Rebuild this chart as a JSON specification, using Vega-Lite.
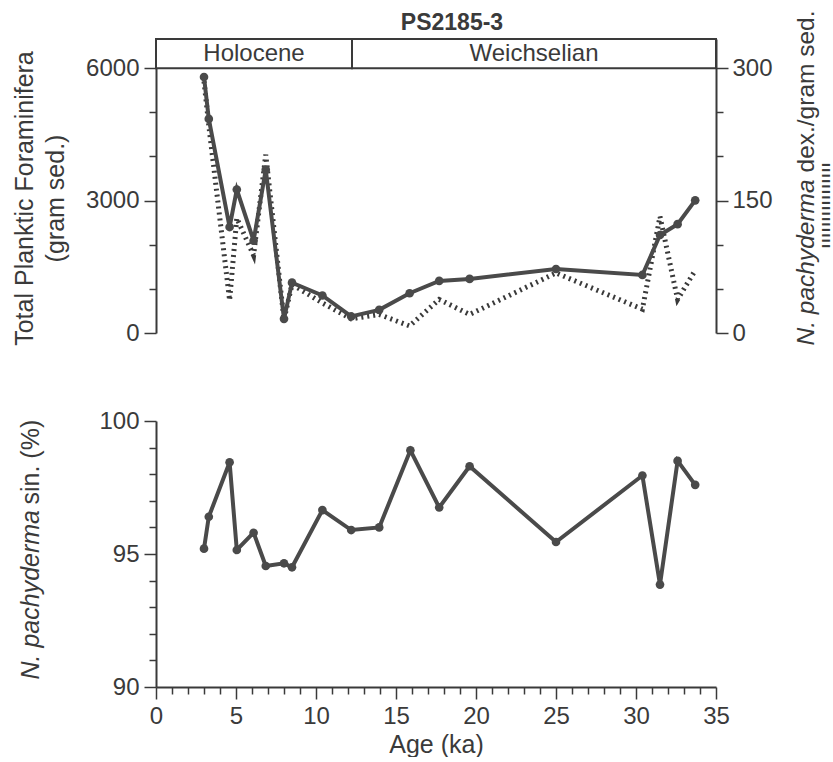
{
  "$schema": "https://vega.github.io/schema/vega-lite/v6.json",
  "autosize": {"type": "pad"},
  "padding": {"left": 12, "top": 9, "right": 0, "bottom": 0},
  "background": "white",
  "config": {
    "font": "Liberation Sans",
    "view": {"stroke": null},
    "axis": {
      "labelFont": "Liberation Sans", "titleFont": "Liberation Sans",
      "labelFontSize": 24, "titleFontSize": 25,
      "labelColor": "#3a3a3a", "titleColor": "#3a3a3a", "titleFontWeight": "normal",
      "domainColor": "#3a3a3a", "domainWidth": 2, "tickColor": "#3a3a3a", "tickWidth": 1.5,
      "grid": false, "labelOverlap": false, "labelFlush": false, "labelPadding": 5
    },
    "title": {"font": "Liberation Sans"}
  },
  "datasets": {
    "epochs": [
      {"epoch": "Holocene", "start": 0, "end": 12.25},
      {"epoch": "Weichselian", "start": 12.25, "end": 35}
    ],
    "top": [
      {"age": 3.0, "total": 5800, "dex": 285},
      {"age": 3.3, "total": 4850, "dex": 235},
      {"age": 4.6, "total": 2400, "dex": 37},
      {"age": 5.05, "total": 3250, "dex": 130},
      {"age": 6.1, "total": 2090, "dex": 88},
      {"age": 6.86, "total": 3700, "dex": 202},
      {"age": 8.0, "total": 320, "dex": 15},
      {"age": 8.5, "total": 1140, "dex": 55},
      {"age": 10.4, "total": 850, "dex": 34},
      {"age": 12.2, "total": 375, "dex": 16},
      {"age": 13.95, "total": 525, "dex": 21},
      {"age": 15.85, "total": 900, "dex": 8},
      {"age": 17.7, "total": 1180, "dex": 38},
      {"age": 19.6, "total": 1225, "dex": 21},
      {"age": 25.0, "total": 1450, "dex": 68},
      {"age": 30.4, "total": 1315, "dex": 27},
      {"age": 31.5, "total": 2220, "dex": 132},
      {"age": 32.6, "total": 2465, "dex": 38},
      {"age": 33.7, "total": 3005, "dex": 71}
    ],
    "sin": [
      {"age": 3.0, "sin": 95.2},
      {"age": 3.3, "sin": 96.4},
      {"age": 4.6, "sin": 98.45},
      {"age": 5.05, "sin": 95.15},
      {"age": 6.1, "sin": 95.8},
      {"age": 6.86, "sin": 94.55},
      {"age": 8.0, "sin": 94.65},
      {"age": 8.5, "sin": 94.5},
      {"age": 10.4, "sin": 96.65},
      {"age": 12.2, "sin": 95.9},
      {"age": 13.95, "sin": 96.0},
      {"age": 15.9, "sin": 98.9},
      {"age": 17.7, "sin": 96.75},
      {"age": 19.6, "sin": 98.3},
      {"age": 25.0, "sin": 95.45},
      {"age": 30.4, "sin": 97.95},
      {"age": 31.5, "sin": 93.85},
      {"age": 32.6, "sin": 98.5},
      {"age": 33.7, "sin": 97.6}
    ]
  },
  "spacing": 88,
  "bounds": "flush",
  "vconcat": [
    {
      "width": 560,
      "height": 294,
      "title": {"text": "PS2185-3", "fontSize": 23, "fontWeight": "bold", "color": "#3a3a3a", "anchor": "middle", "frame": "group", "dx": 16, "offset": -43, "baseline": "alphabetic"},
      "layer": [
        {
          "data": {"name": "epochs"},
          "mark": {"type": "rect", "fill": "white", "stroke": "#3a3a3a", "strokeWidth": 2},
          "encoding": {
            "x": {"field": "start", "type": "quantitative", "scale": {"domain": [0, 35], "nice": false}, "axis": null},
            "x2": {"field": "end"},
            "y": {"datum": 6000, "type": "quantitative", "scale": {"domain": [0, 6660], "nice": false}, "axis": null},
            "y2": {"datum": 6660}
          }
        },
        {
          "data": {"name": "epochs"},
          "transform": [{"calculate": "(datum.start + datum.end) / 2", "as": "mid"}],
          "mark": {"type": "text", "fontSize": 24, "color": "#3a3a3a", "baseline": "middle", "align": "center"},
          "encoding": {
            "x": {"field": "mid", "type": "quantitative", "scale": {"domain": [0, 35], "nice": false}, "axis": null},
            "y": {"datum": 6330, "type": "quantitative", "scale": {"domain": [0, 6660], "nice": false}, "axis": null},
            "text": {"field": "epoch", "type": "nominal"}
          }
        },
        {
          "data": {"name": "top"},
          "mark": {"type": "line", "color": "#3a3a3a", "strokeWidth": 5, "strokeDash": [2, 4]},
          "encoding": {
            "x": {"field": "age", "type": "quantitative", "scale": {"domain": [0, 35], "nice": false}, "axis": null},
            "y": {
              "field": "dex", "type": "quantitative",
              "scale": {"domain": [0, 333], "nice": false},
              "axis": {
                "orient": "right",
                "values": [0, 50, 100, 150, 200, 250, 300],
                "labelExpr": "datum.value % 150 === 0 ? '' + datum.value : ''",
                "tickSize": {"condition": {"test": "datum.value % 150 !== 0", "value": 7}, "value": 12},
                "labelPadding": 4,
                "title": "N. pachyderma",
                "titleFontStyle": "italic",
                "titleFontSize": 24.5,
                "titleAngle": 270, "titleAlign": "left", "titleBaseline": "alphabetic",
                "titleX": 97, "titleY": 306
              }
            }
          }
        },
        {
          "data": {"name": "top"},
          "mark": {"type": "line", "color": "#4a4a4a", "strokeWidth": 4, "point": {"filled": true, "size": 75, "color": "#4a4a4a"}},
          "encoding": {
            "x": {
              "field": "age", "type": "quantitative", "scale": {"domain": [0, 35], "nice": false},
              "axis": {
                "values": [0,1,2,3,4,5,6,7,8,9,10,11,12,13,14,15,16,17,18,19,20,21,22,23,24,25,26,27,28,29,30,31,32,33,34,35],
                "labels": false,
                "tickSize": {"condition": {"test": "datum.value % 5 !== 0", "value": 7}, "value": 12},
                "title": null
              }
            },
            "y": {
              "field": "total", "type": "quantitative",
              "scale": {"domain": [0, 6660], "nice": false},
              "axis": {
                "orient": "left",
                "values": [0, 1000, 2000, 3000, 4000, 5000, 6000],
                "labelExpr": "datum.value % 3000 === 0 ? '' + datum.value : ''",
                "tickSize": {"condition": {"test": "datum.value % 3000 !== 0", "value": 7}, "value": 12},
                "title": ["Total Planktic Foraminifera", "(gram sed.)"],
                "titleAngle": 270, "titleAlign": "center", "titleBaseline": "alphabetic",
                "titleLineHeight": 31,
                "titleX": -124, "titleY": 159
              }
            }
          }
        },
        {
          "data": {"name": "top"},
          "mark": {"type": "line", "opacity": 0},
          "encoding": {
            "x": {"field": "age", "type": "quantitative", "scale": {"domain": [0, 35], "nice": false}, "axis": null},
            "y": {
              "field": "dex", "type": "quantitative", "scale": {"domain": [0, 333], "nice": false},
              "axis": {
                "orient": "right", "labels": false, "ticks": false, "domain": false,
                "title": "dex./gram sed.",
                "titleFontSize": 24.5,
                "titleAngle": 270, "titleAlign": "left", "titleBaseline": "alphabetic",
                "titleX": 97, "titleY": 133
              }
            }
          }
        },
        {
          "data": {"name": "top"},
          "mark": {"type": "line", "opacity": 0},
          "encoding": {
            "x": {"field": "age", "type": "quantitative", "scale": {"domain": [0, 35], "nice": false}, "axis": null},
            "y": {
              "field": "dex", "type": "quantitative", "scale": {"domain": [0, 333], "nice": false},
              "axis": {
                "orient": "right", "labels": false, "ticks": false, "domain": false,
                "title": "\u0131\u200a\u0131\u200a\u0131\u200a\u0131\u200a\u0131\u200a\u0131\u200a\u0131\u200a\u0131\u200a\u0131\u200a\u0131\u200a\u0131\u200a\u0131\u200a\u0131\u200a\u0131\u200a\u0131\u200a\u0131",
                "titleFontSize": 15,
                "titleFontWeight": "bold",
                "titleAngle": 270, "titleAlign": "center", "titleBaseline": "alphabetic",
                "titleX": 113, "titleY": 166
              }
            }
          }
        }
      ],
      "resolve": {"scale": {"y": "independent"}, "axis": {"y": "independent"}}
    },
    {
      "width": 560,
      "height": 266,
      "data": {"name": "sin"},
      "layer": [
        {
          "mark": {"type": "line", "color": "#4a4a4a", "strokeWidth": 4, "point": {"filled": true, "size": 75, "color": "#4a4a4a"}},
          "encoding": {
            "x": {
              "field": "age", "type": "quantitative", "scale": {"domain": [0, 35], "nice": false},
              "axis": {
                "orient": "bottom",
                "values": [0,1,2,3,4,5,6,7,8,9,10,11,12,13,14,15,16,17,18,19,20,21,22,23,24,25,26,27,28,29,30,31,32,33,34,35],
                "labelExpr": "datum.value % 5 === 0 ? '' + datum.value : ''",
                "tickSize": {"condition": {"test": "datum.value % 5 !== 0", "value": 7}, "value": 12},
                "title": "Age (ka)",
                "titlePadding": 4
              }
            },
            "y": {
              "field": "sin", "type": "quantitative",
              "scale": {"domain": [90, 100], "nice": false, "zero": false},
              "axis": {
                "orient": "left",
                "values": [90, 91, 92, 93, 94, 95, 96, 97, 98, 99, 100],
                "labelExpr": "datum.value % 5 === 0 ? '' + datum.value : ''",
                "tickSize": {"condition": {"test": "datum.value % 5 !== 0", "value": 7}, "value": 12},
                "title": "N. pachyderma",
                "titleFontStyle": "italic",
                "titleAngle": 270, "titleAlign": "left", "titleBaseline": "alphabetic",
                "titleX": -118, "titleY": 258
              }
            }
          }
        },
        {
          "mark": {"type": "line", "opacity": 0},
          "encoding": {
            "x": {
              "field": "age", "type": "quantitative", "scale": {"domain": [0, 35], "nice": false},
              "axis": {
                "orient": "bottom",
                "values": [0,1,2,3,4,5,6,7,8,9,10,11,12,13,14,15,16,17,18,19,20,21,22,23,24,25,26,27,28,29,30,31,32,33,34,35],
                "labelExpr": "datum.value % 5 === 0 ? '' + datum.value : ''",
                "tickSize": {"condition": {"test": "datum.value % 5 !== 0", "value": 7}, "value": 12},
                "title": "Age (ka)",
                "titlePadding": 4
              }
            },
            "y": {
              "field": "sin", "type": "quantitative",
              "scale": {"domain": [90, 100], "nice": false, "zero": false},
              "axis": {
                "orient": "left", "labels": false, "ticks": false, "domain": false,
                "title": "sin. (%)",
                "titleAngle": 270, "titleAlign": "left", "titleBaseline": "alphabetic",
                "titleX": -118, "titleY": 83
              }
            }
          }
        }
      ],
      "resolve": {"axis": {"y": "independent"}}
    }
  ]
}
